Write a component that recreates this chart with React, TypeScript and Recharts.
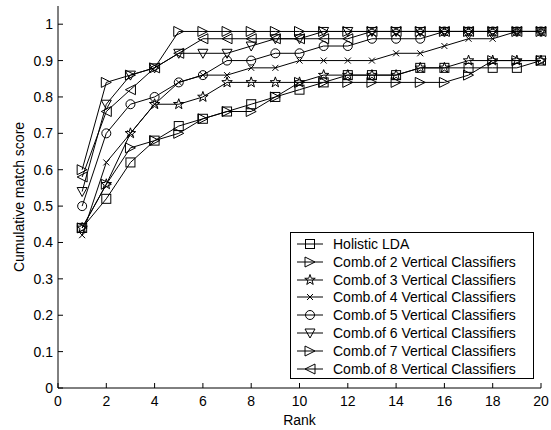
import React from 'react';
import { LineChart, Line, XAxis, YAxis } from 'recharts';

const ranks = [1, 2, 3, 4, 5, 6, 7, 8, 9, 10, 11, 12, 13, 14, 15, 16, 17, 18, 19, 20];

const holisticLda = [0.44, 0.52, 0.62, 0.68, 0.72, 0.74, 0.76, 0.78, 0.80, 0.82, 0.84, 0.86, 0.86, 0.86, 0.88, 0.88, 0.88, 0.88, 0.88, 0.90];
const comb2 = [0.44, 0.56, 0.66, 0.68, 0.70, 0.74, 0.76, 0.76, 0.80, 0.84, 0.84, 0.84, 0.84, 0.84, 0.84, 0.84, 0.86, 0.90, 0.90, 0.90];
const comb3 = [0.44, 0.56, 0.70, 0.78, 0.78, 0.80, 0.84, 0.84, 0.84, 0.84, 0.86, 0.86, 0.86, 0.86, 0.88, 0.88, 0.90, 0.90, 0.90, 0.90];
const comb4 = [0.42, 0.62, 0.70, 0.78, 0.84, 0.86, 0.86, 0.88, 0.88, 0.90, 0.90, 0.90, 0.90, 0.92, 0.92, 0.94, 0.96, 0.96, 0.98, 0.98];
const comb5 = [0.50, 0.70, 0.78, 0.80, 0.84, 0.86, 0.90, 0.90, 0.92, 0.92, 0.94, 0.94, 0.96, 0.96, 0.96, 0.98, 0.98, 0.98, 0.98, 0.98];
const comb6 = [0.54, 0.78, 0.86, 0.88, 0.92, 0.92, 0.92, 0.94, 0.96, 0.96, 0.98, 0.98, 0.98, 0.98, 0.98, 0.98, 0.98, 0.98, 0.98, 0.98];
const comb7 = [0.60, 0.84, 0.86, 0.88, 0.98, 0.98, 0.98, 0.98, 0.98, 0.98, 0.98, 0.98, 0.98, 0.98, 0.98, 0.98, 0.98, 0.98, 0.98, 0.98];
const comb8 = [0.58, 0.76, 0.82, 0.88, 0.92, 0.96, 0.96, 0.96, 0.96, 0.96, 0.96, 0.96, 0.98, 0.98, 0.98, 0.98, 0.98, 0.98, 0.98, 0.98];

const xTicks = [0, 2, 4, 6, 8, 10, 12, 14, 16, 18, 20];
const yTicks = [0, 0.1, 0.2, 0.3, 0.4, 0.5, 0.6, 0.7, 0.8, 0.9, 1];
const yTickLabels = ['0', '0.1', '0.2', '0.3', '0.4', '0.5', '0.6', '0.7', '0.8', '0.9', '1'];

type MarkerKind = 'square' | 'triRight' | 'star' | 'cross' | 'circle' | 'triDown' | 'triLeft';

const series: { key: string; name: string; values: number[]; marker: MarkerKind }[] = [
  { key: 'lda', name: 'Holistic LDA', values: holisticLda, marker: 'square' },
  { key: 'c2', name: 'Comb.of 2 Vertical Classifiers', values: comb2, marker: 'triRight' },
  { key: 'c3', name: 'Comb.of 3 Vertical Classifiers', values: comb3, marker: 'star' },
  { key: 'c4', name: 'Comb.of 4 Vertical Classifiers', values: comb4, marker: 'cross' },
  { key: 'c5', name: 'Comb.of 5 Vertical Classifiers', values: comb5, marker: 'circle' },
  { key: 'c6', name: 'Comb.of 6 Vertical Classifiers', values: comb6, marker: 'triDown' },
  { key: 'c7', name: 'Comb.of 7 Vertical Classifiers', values: comb7, marker: 'triRight' },
  { key: 'c8', name: 'Comb.of 8 Vertical Classifiers', values: comb8, marker: 'triLeft' },
];

const data = ranks.map((rank, i) => {
  const row: Record<string, number> = { rank };
  series.forEach((s) => { row[s.key] = s.values[i]; });
  return row;
});

const FONT = '"Liberation Sans", Arial, sans-serif';

function starPoints(cx: number, cy: number, ro: number, ri: number) {
  const pts: string[] = [];
  for (let k = 0; k < 10; k++) {
    const r = k % 2 === 0 ? ro : ri;
    const a = -Math.PI / 2 + (k * Math.PI) / 5;
    pts.push(`${cx + r * Math.cos(a)},${cy + r * Math.sin(a)}`);
  }
  return pts.join(' ');
}

const Marker = ({ kind, cx, cy }: { kind: MarkerKind; cx: number; cy: number }) => {
  const st = { fill: 'none', stroke: '#000', strokeWidth: 1 };
  switch (kind) {
    case 'square':
      return <rect x={cx - 4.5} y={cy - 4.5} width={9} height={9} {...st} />;
    case 'circle':
      return <circle cx={cx} cy={cy} r={4.5} {...st} />;
    case 'triRight':
      return <polygon points={`${cx + 5},${cy} ${cx - 5},${cy - 5} ${cx - 5},${cy + 5}`} {...st} />;
    case 'triLeft':
      return <polygon points={`${cx - 5},${cy} ${cx + 5},${cy - 5} ${cx + 5},${cy + 5}`} {...st} />;
    case 'triDown':
      return <polygon points={`${cx - 5},${cy - 4} ${cx + 5},${cy - 4} ${cx},${cy + 5}`} {...st} />;
    case 'star':
      return <polygon points={starPoints(cx, cy, 5.5, 2.2)} {...st} />;
    case 'cross':
      return (
        <g {...st}>
          <line x1={cx - 3} y1={cy - 3} x2={cx + 3} y2={cy + 3} />
          <line x1={cx - 3} y1={cy + 3} x2={cx + 3} y2={cy - 3} />
        </g>
      );
    default:
      return null;
  }
};

const BottomTick = ({ x, y, payload }: any) => (
  <g>
    <line x1={x} x2={x} y1={y} y2={y - 5} stroke="#000" />
    <text x={x} y={y + 18} textAnchor="middle" fontFamily={FONT} fontSize={14} fill="#000">{payload.value}</text>
  </g>
);

const TopTick = ({ x, y }: any) => <line x1={x} x2={x} y1={y} y2={y + 5} stroke="#000" />;

const LeftTick = ({ x, y, payload, index }: any) => (
  <g>
    <line x1={x} x2={x + 5} y1={y} y2={y} stroke="#000" />
    <text x={x - 5} y={y + 5} textAnchor="end" fontFamily={FONT} fontSize={14} fill="#000">{yTickLabels[index] ?? payload.value}</text>
  </g>
);

const RightTick = ({ x, y }: any) => <line x1={x} x2={x - 5} y1={y} y2={y} stroke="#000" />;

const Legend = () => (
  <div
    style={{
      position: 'absolute', left: 290, top: 232, width: 244, height: 147,
      boxSizing: 'border-box', border: '1px solid #000', background: '#fff',
      fontFamily: FONT, fontSize: 14, color: '#000',
    }}
  >
    {series.map((s, i) => (
      <div key={s.key} style={{ position: 'absolute', left: 0, top: 2 + i * 17.8, height: 17.8, width: '100%' }}>
        <svg width={30} height={18} style={{ position: 'absolute', left: 6, top: 0 }}>
          <line x1={0} x2={26} y1={9} y2={9} stroke="#000" />
          <Marker kind={s.marker} cx={13} cy={9} />
        </svg>
        <span style={{ position: 'absolute', left: 42, top: 0, lineHeight: '18px', whiteSpace: 'nowrap' }}>{s.name}</span>
      </div>
    ))}
  </div>
);

export default function App() {
  return (
    <div style={{ position: 'absolute', left: 0, top: 0, width: 551, height: 430, background: '#fff' }}>
      <LineChart width={551} height={430} data={data} margin={{ top: 6, right: 10, bottom: 0, left: 0 }}>
        <XAxis
          dataKey="rank"
          type="number"
          domain={[0, 20]}
          ticks={xTicks}
          interval={0}
          height={42}
          tickSize={0}
          tickMargin={0}
          tick={<BottomTick />}
          axisLine={{ stroke: '#000' }}
          tickLine={false}
          label={{ value: 'Rank', position: 'insideBottom', offset: 5, fill: '#000', fontFamily: FONT, fontSize: 14 }}
        />
        <XAxis
          xAxisId="top"
          orientation="top"
          dataKey="rank"
          type="number"
          domain={[0, 20]}
          ticks={xTicks}
          interval={0}
          height={0}
          tickSize={0}
          tickMargin={0}
          tick={<TopTick />}
          axisLine={{ stroke: '#000' }}
          tickLine={false}
        />
        <YAxis
          type="number"
          domain={[0, 1.05]}
          ticks={yTicks}
          interval={0}
          width={58}
          tickSize={0}
          tickMargin={0}
          tick={<LeftTick />}
          axisLine={{ stroke: '#000' }}
          tickLine={false}
          label={{
            content: () => (
              <text x={19} y={197} transform="rotate(-90 19 197)" textAnchor="middle" dominantBaseline="central" fontFamily={FONT} fontSize={14} fill="#000">
                Cumulative match score
              </text>
            ),
          }}
        />
        <YAxis
          yAxisId="right"
          orientation="right"
          type="number"
          domain={[0, 1.05]}
          ticks={yTicks}
          interval={0}
          width={0}
          tickSize={0}
          tickMargin={0}
          tick={<RightTick />}
          axisLine={{ stroke: '#000' }}
          tickLine={false}
        />
        {series.map((s) => (
          <Line
            key={s.key}
            dataKey={s.key}
            name={s.name}
            type="linear"
            stroke="#000"
            strokeWidth={1}
            isAnimationActive={false}
            dot={(p: any) => <Marker key={`${s.key}-${p.index}`} kind={s.marker} cx={p.cx} cy={p.cy} />}
            activeDot={false}
          />
        ))}
      </LineChart>
      <Legend />
    </div>
  );
}
